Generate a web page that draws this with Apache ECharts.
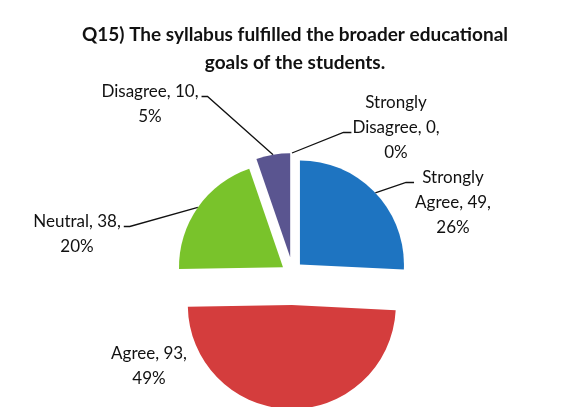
<!DOCTYPE html>
<html>
<head>
<meta charset="utf-8">
<script src="https://cdn.jsdelivr.net/npm/echarts@6/dist/echarts.min.js"></script>
<style>
  html, body { margin: 0; padding: 0; background: #ffffff; }
  #chart { width: 565px; height: 407px; }
</style>
</head>
<body>
<div id="chart"></div>
<script>
// --- Data ---
const categories = ["Strongly Agree", "Agree", "Neutral", "Disagree", "Strongly Disagree"];
const counts = [49, 93, 38, 10, 0];
const titleLines = [
  "Q15) The syllabus fulfilled the broader educational",
  "goals of the students."
];

// --- Styling / layout (not data) ---
const sliceColors = ["#1e74c1", "#d43d3d", "#79c32b", "#5a5590", "#9e9e9e"];
// the photographed chart is slightly stretched vertically, so slices are pulled out more up/down
const PIE_CX = 292, PIE_CY = 281, PIE_R = 104, EXPLODE_X = 11, EXPLODE_Y = 24;
const LINE_H = 25;
// label block: centre x, top y, which text row the leader line meets, side of the block it meets
const labelSpots = [
  { cx: 453, top: 165, row: 0, side: "left" },
  { cx: 149, top: 341, row: -1, side: "none" },
  { cx: 77, top: 209, row: 0, side: "right" },
  { cx: 150, top: 79, row: 0, side: "right" },
  { cx: 396, top: 90, row: 1, side: "left" }
];

const total = counts.reduce((a, b) => a + b, 0);

/** Excel-style label: placed block + leader line bent just before the text. */
function makeLabelLayout(i) {
  return (params) => {
    if (params.dataIndex !== 0) return {};
    const s = labelSpots[i];
    const r = params.labelRect;
    const out = { x: s.cx, y: s.top, align: "center", verticalAlign: "top" };
    if (s.side !== "none" && params.labelLinePoints) {
      const start = params.labelLinePoints[0];
      const y = s.top + LINE_H * s.row + LINE_H / 2 + 5;
      const endX = s.side === "left" ? s.cx - r.width / 2 - 1 : s.cx + r.width / 2 + 3;
      const bendX = s.side === "left" ? endX - 8 : endX + 6;
      out.labelLinePoints = [start, [bendX, y], [endX, y]];
    }
    return out;
  };
}

// One pie per slice so every slice can be pulled out along its own mid-angle.
let swept = 0;
const series = categories.map((name, i) => {
  const sweep = (counts[i] / total) * 360;
  const mid = ((swept + sweep / 2) * Math.PI) / 180;
  const startAngle = 90 - swept;
  swept += sweep;
  return {
    type: "pie",
    name,
    startAngle,
    clockwise: true,
    center: [PIE_CX + EXPLODE_X * Math.sin(mid), PIE_CY - EXPLODE_Y * Math.cos(mid)],
    radius: PIE_R,
    silent: true,
    animation: false,
    avoidLabelOverlap: false,
    percentPrecision: 0,
    itemStyle: { borderWidth: 0 },
    label: {
      show: true,
      position: "outside",
      fontFamily: "Lato",
      fontSize: 17,
      lineHeight: LINE_H,
      color: "#111111",
      align: "center",
      formatter: (p) => `${p.name.replace("Strongly ", "Strongly\n")}, ${p.value},\n${p.percent}%`
    },
    labelLine: {
      show: true,
      length: 10,
      length2: 10,
      lineStyle: { color: "#111111", width: 1.3 }
    },
    labelLayout: makeLabelLayout(i),
    data: [
      {
        name,
        value: counts[i],
        itemStyle: { color: sliceColors[i] },
        labelLine: { show: labelSpots[i].side !== "none" }
      },
      {
        name: "rest",
        value: total - counts[i],
        itemStyle: { color: "rgba(0,0,0,0)" },
        label: { show: false },
        labelLine: { show: false }
      }
    ]
  };
});

const chart = echarts.init(document.getElementById("chart"), null, { renderer: "canvas" });
chart.setOption({
  backgroundColor: "#ffffff",
  title: {
    text: titleLines.join("\n"),
    left: 290,
    top: 16,
    textAlign: "center",
    textStyle: {
      fontFamily: "Lato",
      fontWeight: "bold",
      fontSize: 19,
      lineHeight: 28,
      color: "#111111"
    }
  },
  series
});
</script>
</body>
</html>
